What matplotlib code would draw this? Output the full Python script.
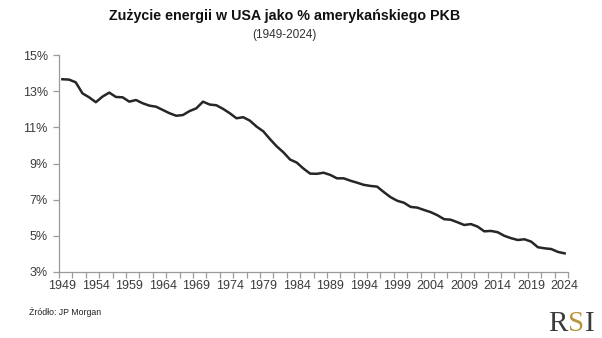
import matplotlib
matplotlib.use("Agg")
import matplotlib.pyplot as plt
import numpy as np
from matplotlib.ticker import FixedLocator, FuncFormatter

years = list(range(1949, 2025))
energy_share = [
    13.66, 13.64, 13.49, 12.88, 12.66, 12.39, 12.70, 12.92, 12.68, 12.66,
    12.42, 12.51, 12.33, 12.20, 12.14, 11.96, 11.78, 11.64, 11.68, 11.90,
    12.05, 12.42, 12.26, 12.22, 12.02, 11.78, 11.50, 11.56, 11.37, 11.04,
    10.78, 10.35, 9.95, 9.62, 9.22, 9.05, 8.72, 8.44, 8.43, 8.49,
    8.37, 8.18, 8.18, 8.05, 7.94, 7.82, 7.76, 7.72, 7.42, 7.14,
    6.94, 6.83, 6.60, 6.56, 6.43, 6.31, 6.14, 5.92, 5.89, 5.75,
    5.60, 5.65, 5.51, 5.25, 5.27, 5.20, 5.00, 4.87, 4.77, 4.81,
    4.68, 4.37, 4.31, 4.27, 4.11, 4.03,
]
x_labels = list(range(1949, 2025, 5))
y_ticks = [3, 5, 7, 9, 11, 13, 15]

title = "Zużycie energii w USA jako % amerykańskiego PKB"
subtitle = "(1949-2024)"
source = "Źródło: JP Morgan"

sans = ["Liberation Sans", "DejaVu Sans"]

fig = plt.figure(figsize=(6.02, 3.38), dpi=100)
ax = fig.add_axes([59/602, 1-272/338, (568-59)/602, (272-55)/338])

ax.plot(years, energy_share, color="#262626", lw=1.8, solid_joinstyle="round")
ax.set_xlim(1948.5, 2024.5)
ax.set_ylim(3, 15)

for s in ["top", "right"]:
    ax.spines[s].set_visible(False)
for s in ["left", "bottom"]:
    ax.spines[s].set_color("#9a9a9a")
    ax.spines[s].set_linewidth(0.9)

ax.yaxis.set_major_locator(FixedLocator(y_ticks))
ax.yaxis.set_major_formatter(FuncFormatter(lambda v, p: f"{int(v)}%"))
ax.xaxis.set_major_locator(FixedLocator(x_labels))
ax.xaxis.set_major_formatter(FuncFormatter(lambda v, p: f"{int(v)}"))
ax.xaxis.set_minor_locator(FixedLocator(np.arange(1948.5, 2024.6, 2.0)))
ax.tick_params(axis="x", which="major", length=0, pad=6, labelsize=9, labelcolor="#3a3a3a")
ax.tick_params(axis="x", which="minor", length=4, width=0.9, color="#9a9a9a", direction="out")
ax.tick_params(axis="y", which="major", length=4, width=0.9, color="#9a9a9a", pad=4, labelsize=9, labelcolor="#3a3a3a")
for lab in ax.get_xticklabels() + ax.get_yticklabels():
    lab.set_family(sans)

fig.text(285/602, 1-16/338, title, ha="center", va="center", fontsize=10.3,
         fontweight="bold", family=sans, color="#111111")
fig.text(284/602, 1-35/338, subtitle, ha="center", va="center", fontsize=8.5,
         family=sans, color="#333333")
fig.text(29/602, 1-312/338, source, ha="left", va="center", fontsize=6.3,
         family=sans, color="#222222")

# RSI logo as text
fig.canvas.draw()
r = fig.canvas.get_renderer()
xpos = 548
letters = [("R", "#3c3c3c"), ("S", "#b8963e"), ("I", "#3c3c3c")]
for ch, col in letters:
    t = fig.text(xpos/602, 1-331/338, ch, ha="left", va="baseline", fontsize=21,
                 family=["Liberation Serif", "DejaVu Serif"], color=col)
    bb = t.get_window_extent(renderer=r)
    xpos += bb.width + 0.5

fig.savefig("out.png", dpi=100, facecolor="white")
